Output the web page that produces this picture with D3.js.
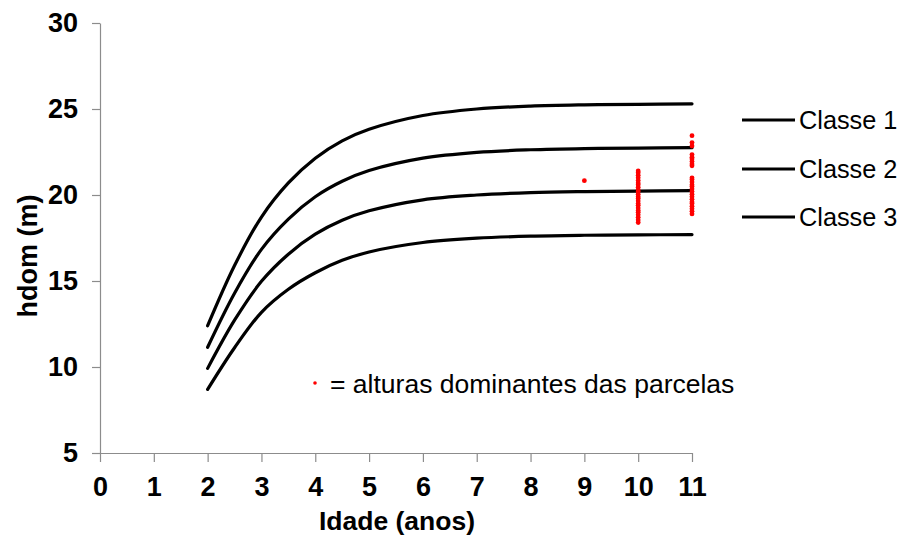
<!DOCTYPE html>
<html>
<head>
<meta charset="utf-8">
<script src="https://cdn.jsdelivr.net/npm/d3@7"></script>
<style>
  html, body { margin: 0; padding: 0; background: #fff; }
  svg { display: block; font-family: Arial, "Liberation Sans", sans-serif; }
</style>
</head>
<body>
<svg id="chart" width="903" height="535"></svg>
<script>
// ---- data ----
const ages = [2, 2.5, 3, 3.5, 4, 4.5, 5, 6, 7, 8, 9, 10, 11];
const curve1 = [12.4, 15.9, 18.72, 20.7, 22.14, 23.15, 23.82, 24.62, 25.0, 25.17, 25.24, 25.27, 25.3];
const curve2 = [11.15, 14.29, 16.84, 18.6, 19.9, 20.8, 21.42, 22.14, 22.48, 22.63, 22.7, 22.73, 22.75];
const curve3 = [9.92, 12.72, 14.98, 16.56, 17.72, 18.53, 19.08, 19.72, 20.0, 20.14, 20.2, 20.23, 20.25];
const curve4 = [8.7, 11.12, 13.18, 14.52, 15.48, 16.2, 16.69, 17.24, 17.49, 17.61, 17.66, 17.68, 17.7];

const obsAge9 = [20.83];
const obsAge10 = [18.4, 18.55, 18.7, 18.85, 19.0, 19.1, 19.25, 19.4, 19.5, 19.65, 19.8, 19.9,
                  20.05, 20.2, 20.3, 20.45, 20.6, 20.7, 20.85, 21.0, 21.15, 21.3, 21.4];
const obsAge11 = [18.9, 19.05, 19.2, 19.35, 19.5, 19.6, 19.75, 19.9, 20.05, 20.2, 20.35, 20.5,
                  20.6, 20.75, 20.9, 21.0, 21.7, 21.8, 21.95, 22.1, 22.2, 22.35, 22.85, 23.05, 23.45];

const xTicks = [0, 1, 2, 3, 4, 5, 6, 7, 8, 9, 10, 11];
const yTicks = [5, 10, 15, 20, 25, 30];
const legendLabels = ["Classe 1", "Classe 2", "Classe 3"];
const noteLabel = "= alturas dominantes das parcelas";
const xTitle = "Idade (anos)";
const yTitle = "hdom (m)";

// ---- layout ----
const svg = d3.select("#chart");
const x = d3.scaleLinear().domain([0, 11]).range([100, 692]);
const y = d3.scaleLinear().domain([5, 30]).range([453, 23]);
const axisColor = "#8c8c8c";

// axes
const xAxis = svg.append("g").attr("transform", `translate(0,${y(5)})`)
  .call(d3.axisBottom(x).tickValues(xTicks).tickSize(9).tickSizeOuter(0).tickPadding(15));
const yAxis = svg.append("g").attr("transform", `translate(${x(0)},0)`)
  .call(d3.axisLeft(y).tickValues(yTicks).tickSize(8).tickSizeOuter(0).tickPadding(14));
[xAxis, yAxis].forEach(g => {
  g.select(".domain").attr("stroke", axisColor).attr("stroke-width", 1.2);
  g.selectAll(".tick line").attr("stroke", axisColor).attr("stroke-width", 1.2);
  g.selectAll(".tick text").attr("fill", "#000").attr("font-size", 27).attr("font-weight", "bold")
    .attr("font-family", "Arial, 'Liberation Sans', sans-serif");
});
xAxis.selectAll(".tick text").attr("dy", "0.71em");

// curves
const line = d3.line().x(d => x(d[0])).y(d => y(d[1])).curve(d3.curveCatmullRom.alpha(0.5));
[curve1, curve2, curve3, curve4].forEach(c => {
  svg.append("path")
    .datum(ages.map((a, i) => [a, c[i]]))
    .attr("d", line)
    .attr("fill", "none")
    .attr("stroke", "#000")
    .attr("stroke-width", 3.2)
    .attr("stroke-linecap", "round");
});

// observations
const obs = [
  ...obsAge9.map(v => [9, v]),
  ...obsAge10.map(v => [10, v]),
  ...obsAge11.map(v => [11, v])
];
svg.append("g").selectAll("circle").data(obs).join("circle")
  .attr("cx", d => x(d[0])).attr("cy", d => y(d[1]))
  .attr("r", 2.4).attr("fill", "#ff0000");

// legend
const legY = [120, 169, 217];
legendLabels.forEach((lab, i) => {
  svg.append("line").attr("x1", 742).attr("x2", 795)
    .attr("y1", legY[i]).attr("y2", legY[i])
    .attr("stroke", "#000").attr("stroke-width", 3.2);
  svg.append("text").attr("x", 799).attr("y", legY[i] + 9)
    .attr("font-size", 25.3).attr("fill", "#000").text(lab);
});

// note
svg.append("circle").attr("cx", 315).attr("cy", 383).attr("r", 1.8).attr("fill", "#ff0000");
svg.append("text").attr("x", 330).attr("y", 393).attr("font-size", 26.5).attr("fill", "#000").text(noteLabel);

// titles
svg.append("text").attr("x", 397).attr("y", 530).attr("text-anchor", "middle")
  .attr("font-size", 26.5).attr("font-weight", "bold").text(xTitle);
svg.append("text").attr("transform", `translate(37,256) rotate(-90)`).attr("text-anchor", "middle")
  .attr("font-size", 27).attr("font-weight", "bold").text(yTitle);
</script>
</body>
</html>
